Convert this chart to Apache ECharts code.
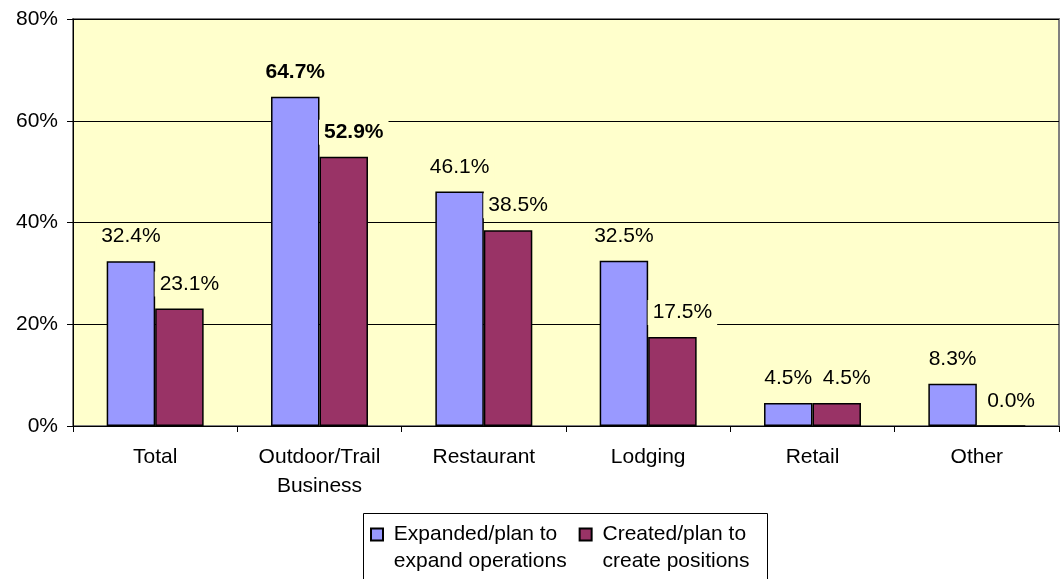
<!DOCTYPE html>
<html>
<head>
<meta charset="utf-8">
<script src="https://cdn.jsdelivr.net/npm/echarts@6/dist/echarts.min.js"></script>
<style>
  html, body { margin: 0; padding: 0; background: #fff; }
  #chart { width: 1061px; height: 579px; }
</style>
</head>
<body>
<div id="chart"></div>
<script>
var categories = ['Total', 'Outdoor/Trail\nBusiness', 'Restaurant', 'Lodging', 'Retail', 'Other'];
var expanded = [32.4, 64.7, 46.1, 32.5, 4.5, 8.3];
var created = [23.1, 52.9, 38.5, 17.5, 4.5, 0.0];
var yTicks = [0, 20, 40, 60, 80];
var boldIndex = 1;

var seriesNames = ['Expanded/plan to expand operations', 'Created/plan to create positions'];
// leading blank line keeps the legend icon level with the first text line
var legendText = {
    'Expanded/plan to expand operations': ' \n Expanded/plan to\n expand operations',
    'Created/plan to create positions': ' \n Created/plan to\n create positions'
};

var font = "'Liberation Sans', Arial, sans-serif";

function toItems(arr) {
    return arr.map(function (v, i) {
        var item = { value: v };
        if (i === boldIndex) {
            item.label = { fontWeight: 'bold' };
        }
        return item;
    });
}

function labelOpt(dx) {
    return {
        show: true,
        position: 'top',
        distance: 12,
        offset: [dx, 0],
        fontFamily: font,
        fontSize: 21,
        color: '#000',
        backgroundColor: '#FFFFCC',
        padding: [2, 5],
        formatter: function (p) { return p.value.toFixed(1) + '%'; }
    };
}

var myChart = echarts.init(document.getElementById('chart'));

var option = {
    animation: false,
    textStyle: { fontFamily: font },
    grid: {
        left: 73, right: 2, top: 19, bottom: 153,
        show: true,
        backgroundColor: '#FFFFCC',
        borderColor: '#808080',
        borderWidth: 2
    },
    graphic: [{
        type: 'rect',
        left: 363,
        top: 513,
        z: 0,
        shape: { width: 404, height: 80 },
        style: { fill: '#fff', stroke: '#000', lineWidth: 1 }
    }],
    legend: {
        data: seriesNames,
        left: 370,
        top: 494,
        z: 10,
        orient: 'horizontal',
        icon: 'rect',
        itemWidth: 12,
        itemHeight: 12,
        itemGap: 12,
        padding: 0,
        textStyle: {
            fontFamily: font,
            fontSize: 21,
            color: '#000',
            lineHeight: 27
        },
        formatter: function (name) { return legendText[name]; }
    },
    xAxis: {
        type: 'category',
        data: categories,
        axisLine: { lineStyle: { color: '#000', width: 1 } },
        axisTick: { show: true, length: 6, lineStyle: { color: '#000' } },
        axisLabel: {
            margin: 17,
            fontFamily: font,
            fontSize: 21,
            color: '#000',
            lineHeight: 29,
            interval: 0
        }
    },
    yAxis: {
        type: 'value',
        min: yTicks[0],
        max: yTicks[yTicks.length - 1],
        interval: 20,
        axisLine: { show: true, lineStyle: { color: '#000', width: 1 } },
        axisTick: { show: true, length: 6, lineStyle: { color: '#000' } },
        axisLabel: {
            margin: 15,
            fontFamily: font,
            fontSize: 21,
            color: '#000',
            formatter: '{value}%'
        },
        splitLine: { show: true, lineStyle: { color: '#000', width: 1 } }
    },
    series: [
        {
            name: seriesNames[0],
            type: 'bar',
            data: toItems(expanded),
            barGap: '0%',
            barCategoryGap: '41%',
            itemStyle: { color: '#9999FF', borderColor: '#000', borderWidth: 1.5 },
            label: labelOpt(0)
        },
        {
            name: seriesNames[1],
            type: 'bar',
            data: toItems(created),
            barGap: '0%',
            barCategoryGap: '41%',
            itemStyle: { color: '#993366', borderColor: '#000', borderWidth: 1.5 },
            label: labelOpt(10)
        }
    ]
};

myChart.setOption(option);
</script>
</body>
</html>
